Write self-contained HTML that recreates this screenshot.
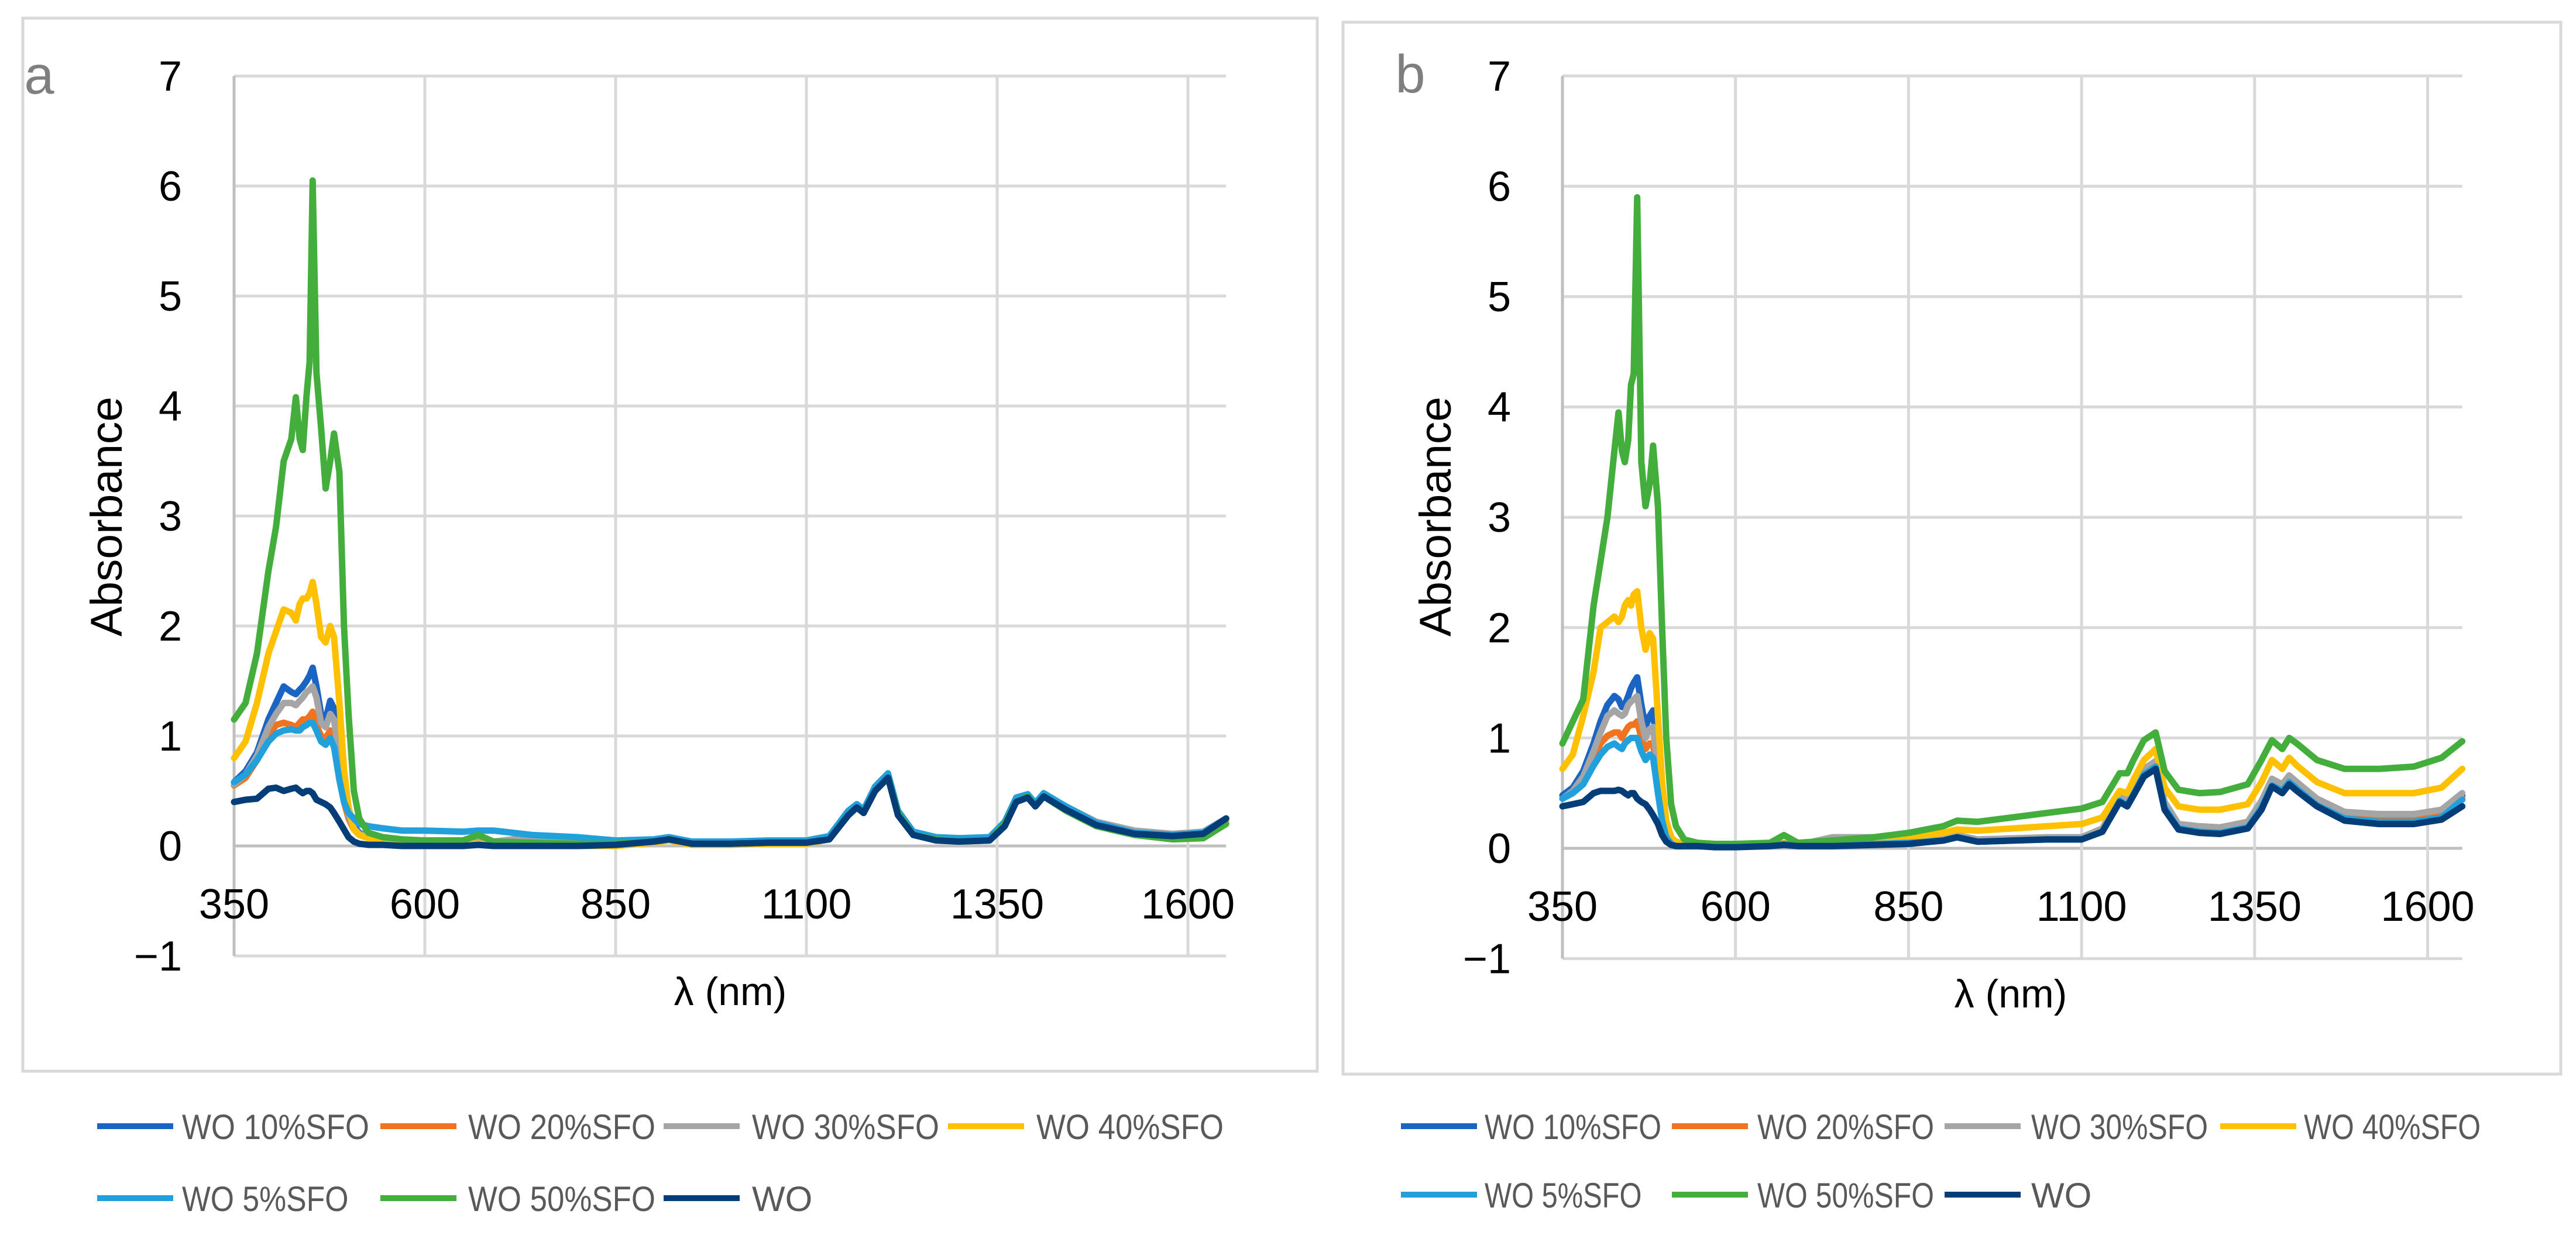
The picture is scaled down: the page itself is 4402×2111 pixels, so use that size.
<!DOCTYPE html>
<html><head><meta charset="utf-8">
<style>
html,body{margin:0;padding:0;background:#fff;}
svg{display:block;font-family:"Liberation Sans",sans-serif;}
</style></head>
<body>
<svg id="fig" width="4402" height="2111" viewBox="0 0 4402 2111" xmlns="http://www.w3.org/2000/svg">
  <rect x="39" y="31" width="2212" height="1800" fill="#fff" stroke="#d9d9d9" stroke-width="5"/>
  <rect x="2295" y="38" width="2081" height="1798" fill="#fff" stroke="#d9d9d9" stroke-width="5"/>
  <g id="pa"></g>
  <g id="pb"></g>
  <text x="67" y="160" font-size="92" fill="#7f7f7f" text-anchor="middle">a</text>
  <text x="2410" y="158" font-size="92" fill="#7f7f7f" text-anchor="middle">b</text>
  <text x="1248" y="1718" font-size="68" fill="#000" text-anchor="middle">λ (nm)</text>
  <text x="3436" y="1722" font-size="68" fill="#000" text-anchor="middle">λ (nm)</text>
  <text transform="translate(208,883) rotate(-90)" font-size="76" fill="#000" text-anchor="middle" textLength="410" lengthAdjust="spacingAndGlyphs">Absorbance</text>
  <text transform="translate(2479,883) rotate(-90)" font-size="76" fill="#000" text-anchor="middle" textLength="410" lengthAdjust="spacingAndGlyphs">Absorbance</text>
  <g id="lega"></g>
  <g id="legb"></g>
</svg>
<script>
const NS="http://www.w3.org/2000/svg";
const xTicks=[350,600,850,1100,1350,1600];
const yTicks=[-1,0,1,2,3,4,5,6,7];
const seriesNames=["WO 10%SFO","WO 20%SFO","WO 30%SFO","WO 40%SFO","WO 5%SFO","WO 50%SFO","WO"];
const seriesColors=["#1a64c4","#f0731f","#a5a5a5","#ffc000","#22a0dc","#43ae3b","#053d78"];
const wlUV=[350,365,380,395,405,415,425,431,436,440,445,449,453,458,464,470,476,481,488,494,500,507,514,526];
const wlNIR=[545,570,600,650,670,690,740,800,850,900,920,950,1000,1050,1100,1130,1155,1166,1175,1190,1207,1220,1240,1270,1300,1340,1360,1375,1390,1400,1411,1440,1480,1530,1580,1620,1650];
// Panel a
const a10UV=[.58,.68,.85,1.15,1.3,1.45,1.4,1.38,1.42,1.45,1.5,1.55,1.62,1.45,1.2,1.15,1.32,1.25,.85,.5,.3,.18,.12,.08];
const a20UV=[.55,.62,.78,1.0,1.1,1.12,1.1,1.08,1.12,1.15,1.15,1.18,1.22,1.1,1.0,.98,1.05,1.0,.7,.4,.25,.15,.1,.07];
const a30UV=[.56,.65,.82,1.08,1.2,1.3,1.3,1.28,1.32,1.35,1.4,1.42,1.45,1.35,1.12,1.08,1.2,1.15,.8,.45,.28,.16,.11,.08];
const a40UV=[.8,.95,1.3,1.75,1.95,2.15,2.12,2.05,2.2,2.25,2.25,2.3,2.4,2.2,1.9,1.85,2.0,1.9,1.3,.7,.35,.15,.1,.07];
const a5UV=[.58,.65,.78,.95,1.02,1.05,1.06,1.05,1.05,1.08,1.1,1.12,1.12,1.05,.95,.92,.98,.9,.6,.4,.3,.25,.2,.18];
const a50UV=[1.15,1.3,1.75,2.5,2.9,3.5,3.7,4.08,3.7,3.6,4.1,4.4,6.05,4.3,3.8,3.25,3.5,3.75,3.4,2.0,1.2,.5,.25,.12];
const aWOUV=[.4,.42,.43,.52,.53,.5,.52,.53,.5,.48,.5,.5,.48,.42,.4,.38,.35,.3,.22,.15,.08,.04,.02,.01];
const a10NIR=[.05,.04,.03,.03,.03,.02,.02,.02,.02,.05,.07,.03,.03,.04,.04,.08,.3,.37,.32,.52,.64,.3,.12,.07,.06,.07,.2,.42,.46,.38,.47,.35,.2,.12,.1,.12,.25];
const a20NIR=[.05,.05,.05,.04,.04,.04,.03,.02,.02,.04,.06,.02,.02,.03,.03,.07,.28,.36,.31,.5,.63,.3,.12,.07,.06,.07,.2,.42,.45,.38,.46,.35,.2,.12,.1,.12,.24];
const a30NIR=[.06,.05,.05,.05,.05,.04,.08,.08,.03,.05,.07,.03,.03,.04,.04,.08,.3,.37,.32,.52,.64,.3,.12,.08,.07,.08,.2,.42,.46,.38,.47,.36,.22,.14,.11,.13,.25];
const a40NIR=[.04,.04,.03,.02,.02,.02,.01,0,0,.03,.05,.01,.01,.02,.02,.06,.28,.35,.3,.5,.62,.28,.1,.06,.05,.06,.19,.41,.45,.37,.46,.34,.19,.1,.08,.1,.22];
const a5NIR=[.16,.14,.14,.13,.14,.14,.1,.08,.05,.06,.08,.04,.04,.05,.05,.09,.32,.38,.33,.54,.66,.32,.13,.08,.07,.08,.22,.44,.47,.39,.48,.36,.21,.12,.1,.12,.25];
const a50NIR=[.08,.06,.05,.05,.1,.04,.03,.02,.02,.04,.06,.02,.02,.03,.03,.06,.28,.35,.3,.5,.62,.3,.1,.06,.04,.05,.2,.4,.45,.36,.45,.32,.18,.1,.06,.07,.2];
const aWONIR=[.01,0,0,0,.01,0,0,0,.01,.04,.06,.02,.02,.03,.03,.06,.28,.35,.3,.5,.62,.28,.1,.05,.04,.05,.18,.4,.44,.36,.45,.33,.19,.11,.09,.11,.25];
// Panel b
const b10UV=[.48,.55,.7,.95,1.15,1.3,1.38,1.35,1.28,1.3,1.38,1.45,1.5,1.55,1.3,1.1,1.2,1.25,.8,.35,.15,.06,.03,.02];
const b20UV=[.45,.5,.6,.8,.95,1.02,1.05,1.05,1.0,1.05,1.1,1.12,1.12,1.15,1.0,.9,.95,.95,.6,.28,.1,.05,.03,.02];
const b30UV=[.45,.52,.65,.88,1.05,1.2,1.25,1.22,1.2,1.22,1.3,1.33,1.35,1.38,1.15,1.0,1.08,1.1,.7,.3,.12,.05,.03,.02];
const b40UV=[.72,.85,1.2,1.6,2.0,2.05,2.1,2.05,2.1,2.2,2.25,2.2,2.3,2.33,2.0,1.8,1.95,1.9,1.2,.6,.25,.1,.06,.04];
const b5UV=[.45,.5,.58,.75,.85,.92,.95,.92,.9,.95,.98,1.0,1.0,1.0,.88,.8,.85,.82,.5,.25,.1,.04,.02,.02];
const b50UV=[.95,1.15,1.35,2.2,2.6,3.0,3.6,3.95,3.6,3.5,3.7,4.2,4.3,5.9,3.5,3.1,3.3,3.65,3.1,2.0,1.0,.4,.2,.08];
const bWOUV=[.38,.4,.42,.5,.52,.52,.52,.53,.52,.5,.48,.5,.5,.45,.42,.4,.35,.3,.22,.12,.06,.03,.02,.02];
const b10NIR=[.03,.02,.02,.03,.04,.03,.03,.04,.05,.08,.11,.07,.08,.09,.09,.17,.45,.41,.52,.7,.77,.4,.2,.17,.16,.21,.4,.6,.55,.63,.57,.42,.3,.27,.27,.32,.48];
const b20NIR=[.03,.02,.02,.03,.04,.03,.03,.04,.05,.08,.11,.07,.08,.09,.09,.16,.44,.4,.5,.68,.75,.38,.19,.16,.15,.2,.38,.58,.53,.6,.55,.4,.28,.26,.26,.3,.45];
const b30NIR=[.03,.02,.02,.03,.04,.03,.1,.1,.06,.09,.12,.08,.09,.1,.1,.18,.47,.43,.54,.72,.79,.42,.22,.2,.19,.24,.43,.63,.58,.66,.6,.45,.33,.31,.31,.35,.5];
const b40NIR=[.03,.03,.03,.04,.05,.04,.05,.07,.1,.14,.17,.16,.18,.2,.22,.28,.52,.5,.62,.8,.9,.55,.38,.35,.35,.4,.6,.8,.72,.82,.75,.6,.5,.5,.5,.55,.72];
const b5NIR=[.03,.02,.02,.03,.04,.03,.03,.04,.05,.07,.1,.06,.07,.08,.08,.15,.43,.39,.49,.67,.74,.37,.18,.15,.14,.19,.37,.57,.52,.6,.54,.39,.27,.24,.24,.28,.44];
const b50NIR=[.05,.04,.04,.05,.12,.05,.07,.1,.14,.2,.25,.24,.28,.32,.36,.42,.68,.68,.8,.98,1.05,.7,.53,.5,.51,.58,.8,.98,.9,1.0,.95,.8,.72,.72,.74,.82,.97];
const bWONIR=[.02,.01,.01,.02,.03,.02,.02,.03,.04,.07,.1,.06,.07,.08,.08,.15,.42,.38,.48,.65,.72,.35,.17,.14,.13,.18,.35,.56,.5,.58,.52,.38,.25,.22,.22,.26,.38];

const wavelengths=wlUV.concat(wlNIR);
const seriesA=[a10UV.concat(a10NIR),a20UV.concat(a20NIR),a30UV.concat(a30NIR),a40UV.concat(a40NIR),a5UV.concat(a5NIR),a50UV.concat(a50NIR),aWOUV.concat(aWONIR)];
const seriesB=[b10UV.concat(b10NIR),b20UV.concat(b20NIR),b30UV.concat(b30NIR),b40UV.concat(b40NIR),b5UV.concat(b5NIR),b50UV.concat(b50NIR),bWOUV.concat(bWONIR)];

function mk(tag,attrs,parent){const e=document.createElementNS(NS,tag);for(const k in attrs)e.setAttribute(k,attrs[k]);parent.appendChild(e);return e;}

function drawPanel(g,P,series,prefix){
  const xS=v=>P.x0+(v-350)/250*P.xu;
  const yS=v=>P.y0-v*P.yu;
  const xEnd=xS(1650);
  yTicks.forEach(t=>{
    const l=mk('line',{x1:xS(350),x2:xEnd,y1:yS(t),y2:yS(t),stroke:t===0?'#bfbfbf':'#d9d9d9','stroke-width':5},g);
    
    
    const tx=mk('text',{x:P.ylx,y:yS(t)+25,'font-size':72,'text-anchor':'end',fill:'#000'},g);
    tx.textContent=t<0?'\u2212'+Math.abs(t):String(t);
    
    
  });
  xTicks.forEach(t=>{
    const l=mk('line',{x1:xS(t),x2:xS(t),y1:yS(7),y2:yS(-1),stroke:t===350?'#bfbfbf':'#d9d9d9','stroke-width':5},g);
    
    
    const tx=mk('text',{x:xS(t),y:P.xly,'font-size':72,'text-anchor':'middle',fill:'#000'},g);
    tx.textContent=String(t);
    
    
  });
  series.forEach((vals,i)=>{
    const pts=vals.map((v,j)=>xS(wavelengths[j]).toFixed(1)+','+yS(v).toFixed(1)).join(' ');
    const pl=mk('polyline',{points:pts,fill:'none',stroke:seriesColors[i],'stroke-width':11,'stroke-linejoin':'round','stroke-linecap':'round'},g);
    
    
  });
}
drawPanel(document.getElementById('pa'),{x0:400,xu:326,y0:1446,yu:188,ylx:311,xly:1570},seriesA,'a-');
drawPanel(document.getElementById('pb'),{x0:2670,xu:295.7,y0:1450,yu:188.6,ylx:2582,xly:1574},seriesB,'b-');

function drawLegend(g,lineX,textX,rowsY,tl){
  seriesNames.forEach((n,i)=>{
    const col=i<4?i:i-4, row=i<4?0:1;
    const y=rowsY[row];
    const item=mk('g',{},g);
    
    
    mk('line',{x1:lineX[col],x2:lineX[col]+130,y1:y,y2:y,stroke:seriesColors[i],'stroke-width':10},item);
    const t=mk('text',{x:textX[col],y:y+22,'font-size':60,fill:'#595959'},item);
    t.textContent=n;
    if(n.length>2){t.setAttribute('textLength',tl*n.length/9);t.setAttribute('lengthAdjust','spacingAndGlyphs');}
  });
}
drawLegend(document.getElementById('lega'),[166,650,1134,1620],[311,800,1285,1771],[1925,2048],320);
drawLegend(document.getElementById('legb'),[2394,2857,3323,3794],[2537,3003,3471,3937],[1925,2042],302);
</script>
</body></html>
